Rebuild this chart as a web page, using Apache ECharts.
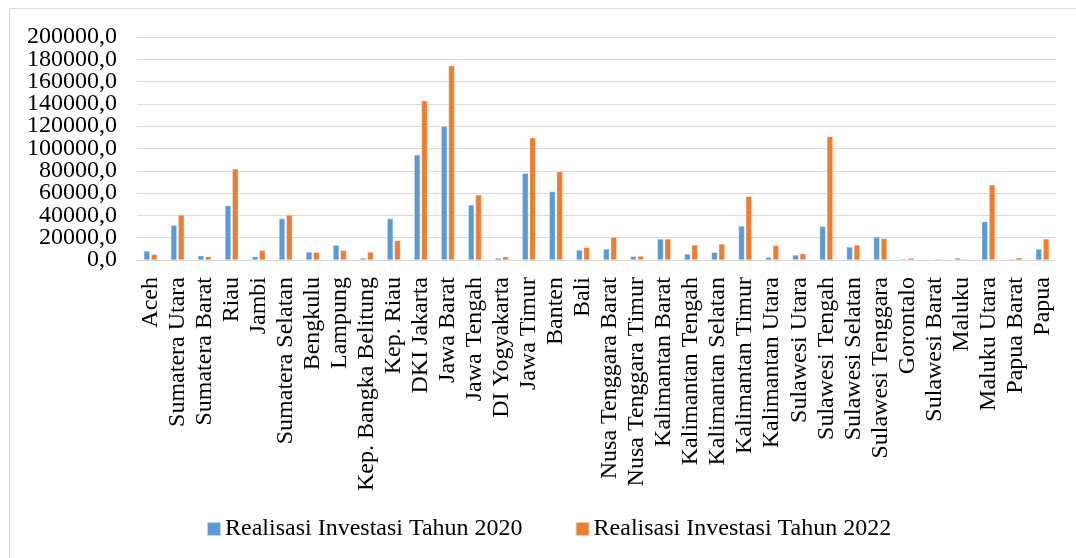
<!DOCTYPE html>
<html>
<head>
<meta charset="utf-8">
<script src="https://cdn.jsdelivr.net/npm/echarts@6/dist/echarts.min.js"></script>
<style>
  html, body { margin: 0; padding: 0; background: #fff; }
  #frame { position: absolute; left: 9px; top: 8px; right: -2px; bottom: -2px; border: 1px solid #d9d9d9; }
  #chart { position: absolute; left: 0; top: 0; width: 1076px; height: 558px; }
</style>
</head>
<body>
<div id="frame"></div>
<div id="chart"></div>
<script>
// Provinces (x axis categories)
const provinces = [
  'Aceh', 'Sumatera Utara', 'Sumatera Barat', 'Riau', 'Jambi', 'Sumatera Selatan',
  'Bengkulu', 'Lampung', 'Kep. Bangka Belitung', 'Kep. Riau', 'DKI Jakarta',
  'Jawa Barat', 'Jawa Tengah', 'DI Yogyakarta', 'Jawa Timur', 'Banten', 'Bali',
  'Nusa Tenggara Barat', 'Nusa Tenggara Timur', 'Kalimantan Barat', 'Kalimantan Tengah',
  'Kalimantan Selatan', 'Kalimantan Timur', 'Kalimantan Utara', 'Sulawesi Utara',
  'Sulawesi Tengah', 'Sulawesi Selatan', 'Sulawesi Tenggara', 'Gorontalo',
  'Sulawesi Barat', 'Maluku', 'Maluku Utara', 'Papua Barat', 'Papua'
];

// Investment realisation, 2020
const invest2020 = [
  8100, 31100, 3900, 48800, 3000, 37100,
  7200, 13200, 1800, 37100, 94300,
  120000, 49400, 1800, 77800, 61400, 9000,
  9900, 3300, 18900, 5400,
  6900, 30500, 2400, 4500,
  30200, 11700, 20700, 900,
  200, 1800, 34400, 900, 9900
];

// Investment realisation, 2022
const invest2022 = [
  5100, 40400, 3000, 81700, 8700, 40400,
  6900, 8700, 7200, 17400, 142800,
  174300, 58400, 3000, 109600, 79300, 11400,
  20400, 3600, 18900, 13500,
  14400, 57200, 12900, 5700,
  110800, 13500, 19200, 1800,
  900, 900, 67400, 2100, 18900
];

const seriesNames = ['Realisasi Investasi Tahun 2020', 'Realisasi Investasi Tahun 2022'];

// Value axis range and step
const yMin = 0;
const yMax = 200000;
const yStep = 20000;

const FONT = '"Liberation Serif", "Times New Roman", serif';
const fmt = v => v.toFixed(1).replace('.', ',');

const yLabelStyle = {
  margin: 20,
  fontFamily: FONT,
  fontSize: 24,
  color: '#000',
  formatter: fmt
};

const chart = echarts.init(document.getElementById('chart'), null, { renderer: 'canvas' });

chart.setOption({
  animation: false,
  backgroundColor: 'transparent',
  textStyle: { fontFamily: FONT, color: '#000' },
  grid: { left: 137, right: 20, top: 37, bottom: 298, containLabel: false },
  legend: {
    bottom: 12,
    left: 201,
    itemWidth: 14,
    itemHeight: 14,
    itemGap: 52,
    icon: 'rect',
    textStyle: { fontFamily: FONT, fontSize: 24, color: '#000', padding: [0, 0, 0, -1] },
    data: seriesNames
  },
  xAxis: {
    type: 'category',
    data: provinces,
    axisLine: { show: true, lineStyle: { color: '#d9d9d9', width: 1 } },
    axisTick: { show: false },
    axisLabel: {
      interval: 0,
      rotate: 90,
      margin: 17,
      fontFamily: FONT,
      fontSize: 24,
      color: '#000'
    }
  },
  yAxis: [
    {
      // main value axis: grid lines and inner tick labels
      type: 'value',
      position: 'left',
      min: yMin,
      max: yMax,
      interval: yStep,
      axisLine: { show: false },
      axisTick: { show: false },
      splitLine: { lineStyle: { color: '#d9d9d9', width: 1 } },
      axisLabel: Object.assign({ showMinLabel: false, showMaxLabel: false }, yLabelStyle)
    },
    {
      // end labels of the same scale (0 and the maximum)
      type: 'value',
      position: 'left',
      offset: 0,
      min: yMin,
      max: yMax,
      interval: yMax - yMin,
      axisLine: { show: false },
      axisTick: { show: false },
      splitLine: { show: false },
      axisLabel: yLabelStyle
    }
  ],
  series: [
    {
      name: seriesNames[0],
      type: 'bar',
      yAxisIndex: 0,
      data: invest2020,
      barWidth: 6,
      barGap: '22%',
      itemStyle: { color: '#5B9BD5', borderColor: 'rgba(255,255,255,0.6)', borderWidth: 0.5 }
    },
    {
      name: seriesNames[1],
      type: 'bar',
      yAxisIndex: 0,
      data: invest2022,
      barWidth: 6,
      barGap: '22%',
      itemStyle: { color: '#ED7D31', borderColor: 'rgba(255,255,255,0.6)', borderWidth: 0.5 }
    }
  ]
});
</script>
</body>
</html>
